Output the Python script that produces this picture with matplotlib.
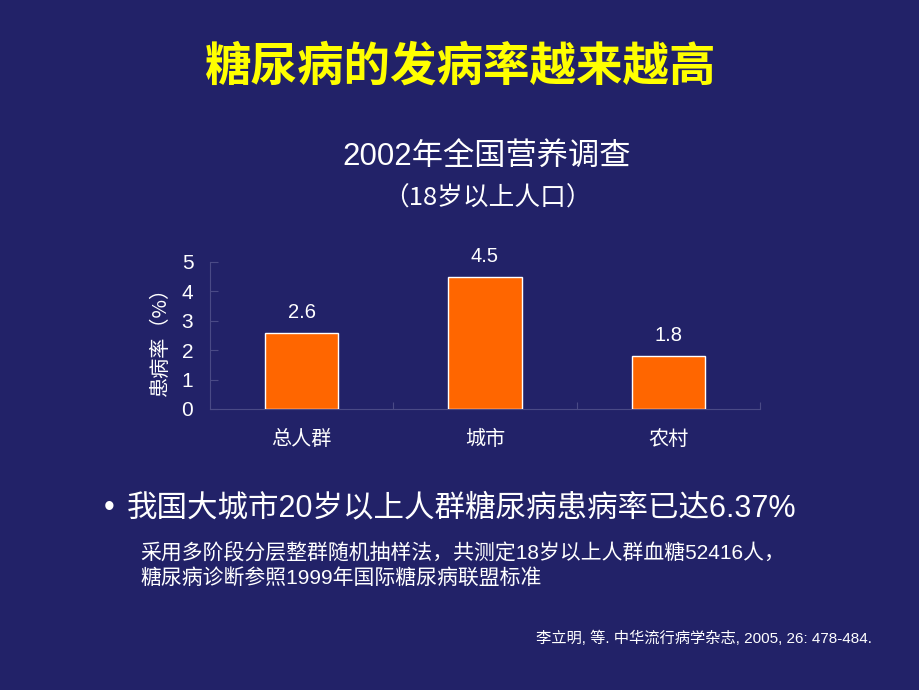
import matplotlib
matplotlib.use("Agg")
import matplotlib.pyplot as plt

plt.rcParams['font.family'] = ['Liberation Sans', 'Noto Sans CJK SC', 'DejaVu Sans']

categories = ['总人群', '城市', '农村']
values = [2.6, 4.5, 1.8]
yticks = [0, 1, 2, 3, 4, 5]

BG = '#222268'
BAR = '#FF6600'
AXC = '#4A4A86'
CJK = ['Noto Sans CJK SC', 'Liberation Sans', 'DejaVu Sans']

fig = plt.figure(figsize=(9.2, 6.9), dpi=100, facecolor=BG)
ax = fig.add_axes([210/920, 1-409/690, 550/920, (409-262)/690])
ax.set_facecolor(BG)

x = list(range(len(categories)))
bars = ax.bar(x, values, width=0.40, color=BAR, edgecolor='white', linewidth=1.0, zorder=3)
for xi, v in zip(x, values):
    ax.annotate(f'{v}', (xi, v), xytext=(0, 14.5), textcoords='offset points',
                ha='center', va='center', color='white', fontsize=14.5)

ax.set_xlim(-0.5, 2.5)
ax.set_ylim(0, 5)
ax.set_yticks(yticks)
ax.set_yticklabels([str(t) for t in yticks])
ax.set_xticks(x)
ax.set_xticklabels(categories)
ax.set_xticks([0.5, 1.5, 2.5], minor=True)

ax.tick_params(axis='y', direction='in', length=6, width=0.8, color=AXC,
               labelcolor='white', labelsize=15, pad=12)
ax.tick_params(axis='x', which='major', length=0, labelcolor='white', labelsize=14.5, pad=15)
ax.tick_params(axis='x', which='minor', direction='in', length=5, width=0.8, color=AXC)

for s in ['top', 'right']:
    ax.spines[s].set_visible(False)
for s in ['left', 'bottom']:
    ax.spines[s].set_color(AXC)
    ax.spines[s].set_linewidth(0.8)

fig.text(160/920, 1-336/690, '患病率（%）', rotation=90, ha='center', va='center',
         color='white', fontsize=14.5, family=CJK)

fig.text(461/920, 1-68/690, '糖尿病的发病率越来越高', ha='center', va='center',
         color='#FFFF00', fontsize=33.5, fontweight='bold')
fig.text(487/920, 1-158/690, '2002年全国营养调查', ha='center', va='center',
         color='white', fontsize=22.5)
fig.text(487/920, 1-199/690, '（18岁以上人口）', ha='center', va='center',
         color='white', fontsize=18.5, family=CJK)

fig.text(104/920, 1-508/690, '•', ha='left', va='center', color='white', fontsize=22)
fig.text(127/920, 1-508/690, '我国大城市20岁以上人群糖尿病患病率已达6.37%', ha='left', va='center',
         color='white', fontsize=22)
fig.text(140/920, 1-553/690, '采用多阶段分层整群随机抽样法，共测定18岁以上人群血糖52416人，',
         ha='left', va='center', color='white', fontsize=15)
fig.text(140/920, 1-578/690, '糖尿病诊断参照1999年国际糖尿病联盟标准',
         ha='left', va='center', color='white', fontsize=15)
fig.text(872/920, 1-638/690, '李立明, 等. 中华流行病学杂志, 2005, 26: 478-484.',
         ha='right', va='center', color='white', fontsize=11)

fig.savefig('out.png', dpi=100, facecolor=BG)
